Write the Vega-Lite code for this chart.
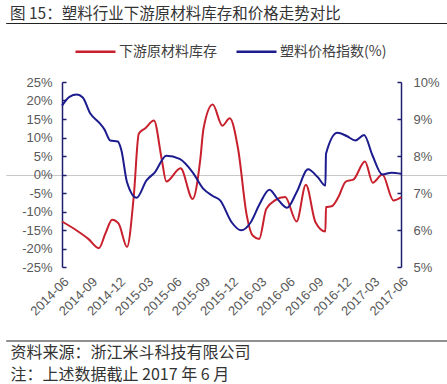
{
  "$schema": "https://vega.github.io/schema/vega-lite/v6.json",
  "autosize": "none",
  "width": 339,
  "height": 185,
  "padding": {"left": 62, "top": 82, "right": 46, "bottom": 117},
  "background": "white",
  "config": {"view": {"stroke": null}, "axis": {"labelOverlap": false}},
  "title": {
    "text": "图 15：塑料行业下游原材料库存和价格走势对比",
    "anchor": "start",
    "frame": "group",
    "offset": 1,
    "dx": -52,
    "font": "Noto Sans CJK SC",
    "fontSize": 15.5,
    "fontWeight": "normal",
    "color": "#333333"
  },
  "data": {
    "values": [
      {"date": "2014/06/01", "series": "下游原材料库存", "value": -12.7},
      {"date": "2014/07/16", "series": "下游原材料库存", "value": -15.0},
      {"date": "2014/08/25", "series": "下游原材料库存", "value": -17.4},
      {"date": "2014/09/28", "series": "下游原材料库存", "value": -19.9},
      {"date": "2014/10/19", "series": "下游原材料库存", "value": -16.0},
      {"date": "2014/11/10", "series": "下游原材料库存", "value": -12.2},
      {"date": "2014/12/01", "series": "下游原材料库存", "value": -13.3},
      {"date": "2014/12/28", "series": "下游原材料库存", "value": -19.6},
      {"date": "2015/01/19", "series": "下游原材料库存", "value": -5.7},
      {"date": "2015/02/04", "series": "下游原材料库存", "value": 11.0},
      {"date": "2015/02/25", "series": "下游原材料库存", "value": 12.5},
      {"date": "2015/03/25", "series": "下游原材料库存", "value": 14.6},
      {"date": "2015/04/19", "series": "下游原材料库存", "value": 4.2},
      {"date": "2015/05/04", "series": "下游原材料库存", "value": -1.9},
      {"date": "2015/06/19", "series": "下游原材料库存", "value": 1.7},
      {"date": "2015/07/28", "series": "下游原材料库存", "value": -6.6},
      {"date": "2015/08/22", "series": "下游原材料库存", "value": 4.2},
      {"date": "2015/09/01", "series": "下游原材料库存", "value": 12.3},
      {"date": "2015/10/01", "series": "下游原材料库存", "value": 18.9},
      {"date": "2015/11/01", "series": "下游原材料库存", "value": 13.2},
      {"date": "2015/11/25", "series": "下游原材料库存", "value": 15.2},
      {"date": "2015/12/22", "series": "下游原材料库存", "value": 6.9},
      {"date": "2016/01/19", "series": "下游原材料库存", "value": -11.1},
      {"date": "2016/02/07", "series": "下游原材料库存", "value": -16.5},
      {"date": "2016/02/28", "series": "下游原材料库存", "value": -17.4},
      {"date": "2016/03/22", "series": "下游原材料库存", "value": -9.3},
      {"date": "2016/04/19", "series": "下游原材料库存", "value": -7.0},
      {"date": "2016/05/22", "series": "下游原材料库存", "value": -6.1},
      {"date": "2016/06/28", "series": "下游原材料库存", "value": -12.7},
      {"date": "2016/07/28", "series": "下游原材料库存", "value": -2.8},
      {"date": "2016/08/28", "series": "下游原材料库存", "value": -12.9},
      {"date": "2016/09/29", "series": "下游原材料库存", "value": -15.4},
      {"date": "2016/10/01", "series": "下游原材料库存", "value": -8.8},
      {"date": "2016/10/19", "series": "下游原材料库存", "value": -8.6},
      {"date": "2016/11/10", "series": "下游原材料库存", "value": -6.1},
      {"date": "2016/12/04", "series": "下游原材料库存", "value": -1.9},
      {"date": "2016/12/28", "series": "下游原材料库存", "value": -1.4},
      {"date": "2017/02/04", "series": "下游原材料库存", "value": 3.5},
      {"date": "2017/03/01", "series": "下游原材料库存", "value": -2.2},
      {"date": "2017/04/01", "series": "下游原材料库存", "value": 0.0},
      {"date": "2017/05/07", "series": "下游原材料库存", "value": -7.0},
      {"date": "2017/06/01", "series": "下游原材料库存", "value": -6.1},
      {"date": "2014/06/01", "series": "塑料价格指数(%)", "value": 9.36},
      {"date": "2014/06/25", "series": "塑料价格指数(%)", "value": 9.6},
      {"date": "2014/07/19", "series": "塑料价格指数(%)", "value": 9.66},
      {"date": "2014/08/07", "series": "塑料价格指数(%)", "value": 9.58},
      {"date": "2014/09/01", "series": "塑料价格指数(%)", "value": 9.14},
      {"date": "2014/09/28", "series": "塑料价格指数(%)", "value": 8.91},
      {"date": "2014/10/16", "series": "塑料价格指数(%)", "value": 8.72},
      {"date": "2014/11/04", "series": "塑料价格指数(%)", "value": 8.42},
      {"date": "2014/11/28", "series": "塑料价格指数(%)", "value": 8.39},
      {"date": "2014/12/10", "series": "塑料价格指数(%)", "value": 8.15},
      {"date": "2014/12/28", "series": "塑料价格指数(%)", "value": 7.29},
      {"date": "2015/01/28", "series": "塑料价格指数(%)", "value": 6.87},
      {"date": "2015/03/01", "series": "塑料价格指数(%)", "value": 7.34},
      {"date": "2015/03/28", "series": "塑料价格指数(%)", "value": 7.56},
      {"date": "2015/05/04", "series": "塑料价格指数(%)", "value": 8.01},
      {"date": "2015/06/16", "series": "塑料价格指数(%)", "value": 7.92},
      {"date": "2015/07/28", "series": "塑料价格指数(%)", "value": 7.56},
      {"date": "2015/09/01", "series": "塑料价格指数(%)", "value": 7.11},
      {"date": "2015/10/01", "series": "塑料价格指数(%)", "value": 6.92},
      {"date": "2015/10/25", "series": "塑料价格指数(%)", "value": 6.8},
      {"date": "2015/12/01", "series": "塑料价格指数(%)", "value": 6.21},
      {"date": "2016/01/01", "series": "塑料价格指数(%)", "value": 5.99},
      {"date": "2016/02/01", "series": "塑料价格指数(%)", "value": 6.21},
      {"date": "2016/03/01", "series": "塑料价格指数(%)", "value": 6.71},
      {"date": "2016/04/01", "series": "塑料价格指数(%)", "value": 7.09},
      {"date": "2016/05/01", "series": "塑料价格指数(%)", "value": 6.8},
      {"date": "2016/05/28", "series": "塑料价格指数(%)", "value": 6.6},
      {"date": "2016/06/28", "series": "塑料价格指数(%)", "value": 7.02},
      {"date": "2016/08/04", "series": "塑料价格指数(%)", "value": 7.64},
      {"date": "2016/09/04", "series": "塑料价格指数(%)", "value": 7.43},
      {"date": "2016/09/29", "series": "塑料价格指数(%)", "value": 7.2},
      {"date": "2016/10/01", "series": "塑料价格指数(%)", "value": 8.06},
      {"date": "2016/11/07", "series": "塑料价格指数(%)", "value": 8.63},
      {"date": "2016/12/07", "series": "塑料价格指数(%)", "value": 8.54},
      {"date": "2017/01/04", "series": "塑料价格指数(%)", "value": 8.42},
      {"date": "2017/02/01", "series": "塑料价格指数(%)", "value": 8.57},
      {"date": "2017/02/28", "series": "塑料价格指数(%)", "value": 8.02},
      {"date": "2017/04/01", "series": "塑料价格指数(%)", "value": 7.5},
      {"date": "2017/05/01", "series": "塑料价格指数(%)", "value": 7.55},
      {"date": "2017/06/01", "series": "塑料价格指数(%)", "value": 7.52}
    ]
  },
  "layer": [
    {
      "transform": [{"filter": "datum.series === '下游原材料库存'"}],
      "mark": {"type": "line", "interpolate": "monotone", "strokeWidth": 2},
      "encoding": {
        "x": {
          "field": "date",
          "type": "temporal",
          "scale": {
            "domain": [{"year": 2013, "month": 12, "date": 1}, {"year": 2017, "month": 10, "date": 27}],
            "range": [-56.3, 385],
            "nice": false
          },
          "axis": {
            "orient": "bottom",
            "offset": 73.5,
            "values": [
              {"year": 2014, "month": 6, "date": 1}, {"year": 2014, "month": 9, "date": 1},
              {"year": 2014, "month": 12, "date": 1}, {"year": 2015, "month": 3, "date": 1},
              {"year": 2015, "month": 6, "date": 1}, {"year": 2015, "month": 9, "date": 1},
              {"year": 2015, "month": 12, "date": 1}, {"year": 2016, "month": 3, "date": 1},
              {"year": 2016, "month": 6, "date": 1}, {"year": 2016, "month": 9, "date": 1},
              {"year": 2016, "month": 12, "date": 1}, {"year": 2017, "month": 3, "date": 1},
              {"year": 2017, "month": 6, "date": 1}
            ],
            "format": "%Y-%m",
            "labelAngle": -45,
            "labelAlign": "right",
            "labelBaseline": "top",
            "labelPadding": -65.5,
            "labelFont": "Liberation Sans",
            "labelFontSize": 13,
            "labelColor": "#595959",
            "labelOverlap": false,
            "labelFlush": false,
            "domain": true,
            "domainColor": "#222222",
            "domainWidth": 1.2,
            "ticks": false,
            "grid": false,
            "title": ["资料来源：浙江米斗科技有限公司", "注：上述数据截止 2017 年 6 月"],
            "titleX": -52,
            "titleY": 3.5,
            "titleAlign": "left",
            "titleAnchor": "start",
            "titleBaseline": "top",
            "titleAngle": 0,
            "titleFont": "Noto Sans CJK SC",
            "titleFontSize": 16,
            "titleFontWeight": "normal",
            "titleColor": "#333333",
            "titleLineHeight": 22
          }
        },
        "y": {
          "field": "value",
          "type": "quantitative",
          "scale": {"domain": [-25, 25], "nice": false, "zero": false},
          "axis": {
            "orient": "left",
            "values": [-25, -20, -15, -10, -5, 0, 5, 10, 15, 20, 25],
            "labelExpr": "datum.value + '%'",
            "labelOverlap": false,
            "title": null,
            "grid": true,
            "gridColor": {"condition": {"test": "datum.value === 0", "value": "#c8c8c8"}, "value": "transparent"},
            "gridWidth": 1,
            "domainColor": "#1f1f6e",
            "domainWidth": 1.5,
            "tickColor": "#1f1f6e",
            "tickWidth": 1.5,
            "tickSize": -4,
            "labelPadding": 14,
            "labelFont": "Liberation Sans",
            "labelFontSize": 13,
            "labelColor": "#595959"
          }
        },
        "color": {
          "field": "series",
          "type": "nominal",
          "scale": {"domain": ["下游原材料库存", "塑料价格指数(%)"], "range": ["#c8202c", "#1c1c8f"]},
          "legend": {
            "orient": "none",
            "legendX": 12,
            "legendY": -52,
            "direction": "horizontal",
            "title": null,
            "symbolType": "stroke",
            "symbolSize": 1600,
            "symbolStrokeWidth": 2.5,
            "labelFont": "Noto Sans CJK SC",
            "labelFontSize": 14,
            "labelColor": "#404040",
            "labelOffset": 2,
            "columnPadding": 14
          }
        }
      }
    },
    {
      "transform": [{"filter": "datum.series === '塑料价格指数(%)'"}],
      "mark": {"type": "line", "interpolate": "monotone", "strokeWidth": 2},
      "encoding": {
        "x": {
          "field": "date",
          "type": "temporal",
          "scale": {
            "domain": [{"year": 2013, "month": 12, "date": 1}, {"year": 2017, "month": 10, "date": 27}],
            "range": [-56.3, 385],
            "nice": false
          },
          "axis": {
            "orient": "top",
            "offset": 59,
            "labels": false,
            "ticks": false,
            "grid": false,
            "domain": true,
            "domainColor": "#222222",
            "domainWidth": 1.2,
            "title": null
          }
        },
        "y": {
          "field": "value",
          "type": "quantitative",
          "scale": {"domain": [5, 10], "nice": false, "zero": false},
          "axis": {
            "orient": "right",
            "values": [5, 6, 7, 8, 9, 10],
            "labelExpr": "datum.value + '%'",
            "labelOverlap": false,
            "title": null,
            "grid": false,
            "domainColor": "#1f1f6e",
            "domainWidth": 1.5,
            "tickColor": "#1f1f6e",
            "tickWidth": 1.5,
            "tickSize": -4,
            "labelPadding": 16,
            "labelFont": "Liberation Sans",
            "labelFontSize": 13,
            "labelColor": "#595959"
          }
        },
        "color": {"field": "series", "type": "nominal"}
      }
    }
  ],
  "resolve": {"scale": {"y": "independent"}}
}
